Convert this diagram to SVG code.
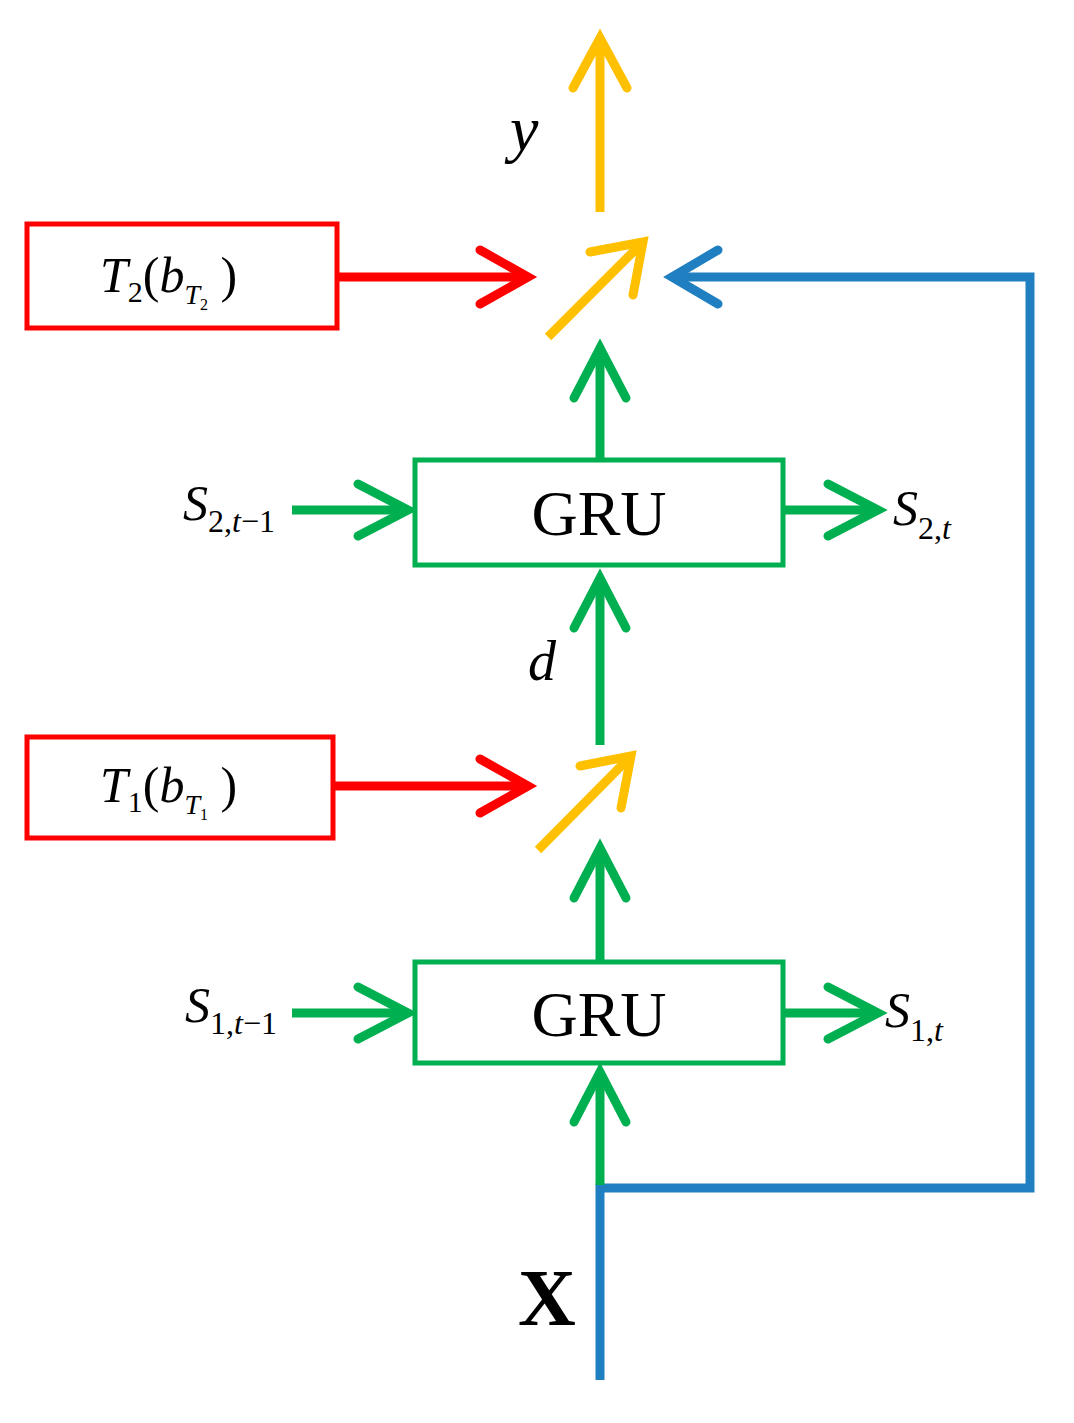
<svg xmlns="http://www.w3.org/2000/svg" width="1074" height="1423" viewBox="0 0 1074 1423">
<style>
.g{stroke:#00b050}.r{stroke:#ff0000}.y{stroke:#ffc000}.b{stroke:#1f7fc1}
line,polyline,path{fill:none;stroke-width:9}
polyline{stroke-linecap:round;stroke-linejoin:miter}
rect{fill:#fff;stroke-width:5}
text{font-family:"Liberation Serif",serif;fill:#000}
.i{font-style:italic}
</style>
<rect width="1074" height="1423" fill="#fff" stroke="none"/>
<g id="connectors">
<line class="y" x1="600" y1="212" x2="600" y2="38"/><polyline class="y" points="573,88 600,38 627,88"/>
<line class="y" x1="548" y1="337" x2="643" y2="242"/><polyline class="y" points="590,252 643,242 633,295"/>
<line class="y" x1="538" y1="850" x2="631" y2="756"/><polyline class="y" points="580,766 631,756 621,808"/>
<line class="r" x1="337" y1="277" x2="528" y2="277"/><polyline class="r" points="480,250 528,277 480,304"/>
<line class="r" x1="333" y1="786" x2="528" y2="786"/><polyline class="r" points="480,759 528,786 480,813"/>
<path class="b" d="M600,1380 V1188 H1030 V277 H672"/><polyline class="b" points="718,250 672,277 718,304"/>
<line class="g" x1="600" y1="458" x2="600" y2="348"/><polyline class="g" points="574,398 600,348 626,398"/>
<line class="g" x1="600" y1="745" x2="600" y2="578"/><polyline class="g" points="574,628 600,578 626,628"/>
<line class="g" x1="600" y1="960" x2="600" y2="848"/><polyline class="g" points="574,898 600,848 626,898"/>
<line class="g" x1="600" y1="1185" x2="600" y2="1072"/><polyline class="g" points="574,1122 600,1072 626,1122"/>
<line class="g" x1="292" y1="510" x2="408" y2="510"/><polyline class="g" points="358,484 408,510 358,536"/>
<line class="g" x1="785" y1="510" x2="878" y2="510"/><polyline class="g" points="828,484 878,510 828,536"/>
<line class="g" x1="292" y1="1013" x2="408" y2="1013"/><polyline class="g" points="358,987 408,1013 358,1039"/>
<line class="g" x1="785" y1="1013" x2="878" y2="1013"/><polyline class="g" points="828,987 878,1013 828,1039"/>
</g>
<g id="T2"><rect class="r" x="27" y="224" width="310" height="104"/>
<text x="100" y="292" font-size="50"><tspan class="i">T</tspan><tspan font-size="30" dy="10">2</tspan><tspan dy="-10">(</tspan><tspan class="i">b</tspan><tspan class="i" font-size="28" dy="12">T</tspan><tspan font-size="16" dy="6">2</tspan><tspan dy="-18"> )</tspan></text></g>
<g id="T1"><rect class="r" x="27" y="737" width="306" height="101"/>
<text x="100" y="802" font-size="50"><tspan class="i">T</tspan><tspan font-size="30" dy="10">1</tspan><tspan dy="-10">(</tspan><tspan class="i">b</tspan><tspan class="i" font-size="28" dy="12">T</tspan><tspan font-size="16" dy="6">1</tspan><tspan dy="-18"> )</tspan></text></g>
<g id="GRU2"><rect class="g" x="415" y="460" width="368" height="105"/><text x="599" y="535" font-size="64" text-anchor="middle">GRU</text></g>
<g id="GRU1"><rect class="g" x="415" y="962" width="368" height="101"/><text x="599" y="1036" font-size="64" text-anchor="middle">GRU</text></g>
<g id="labels">
<text x="510" y="150" font-size="64" class="i">y</text>
<text x="528" y="680" font-size="56" class="i">d</text>
<text x="518" y="1325" font-size="80" font-weight="bold">X</text>
<text x="183" y="520" font-size="50"><tspan class="i">S</tspan><tspan font-size="32" dy="12">2,<tspan class="i">t</tspan>−1</tspan></text>
<text x="893" y="525" font-size="50"><tspan class="i">S</tspan><tspan font-size="32" dy="14">2,<tspan class="i">t</tspan></tspan></text>
<text x="185" y="1022" font-size="50"><tspan class="i">S</tspan><tspan font-size="32" dy="12">1,<tspan class="i">t</tspan>−1</tspan></text>
<text x="885" y="1027" font-size="50"><tspan class="i">S</tspan><tspan font-size="32" dy="14">1,<tspan class="i">t</tspan></tspan></text>
</g>
</svg>
